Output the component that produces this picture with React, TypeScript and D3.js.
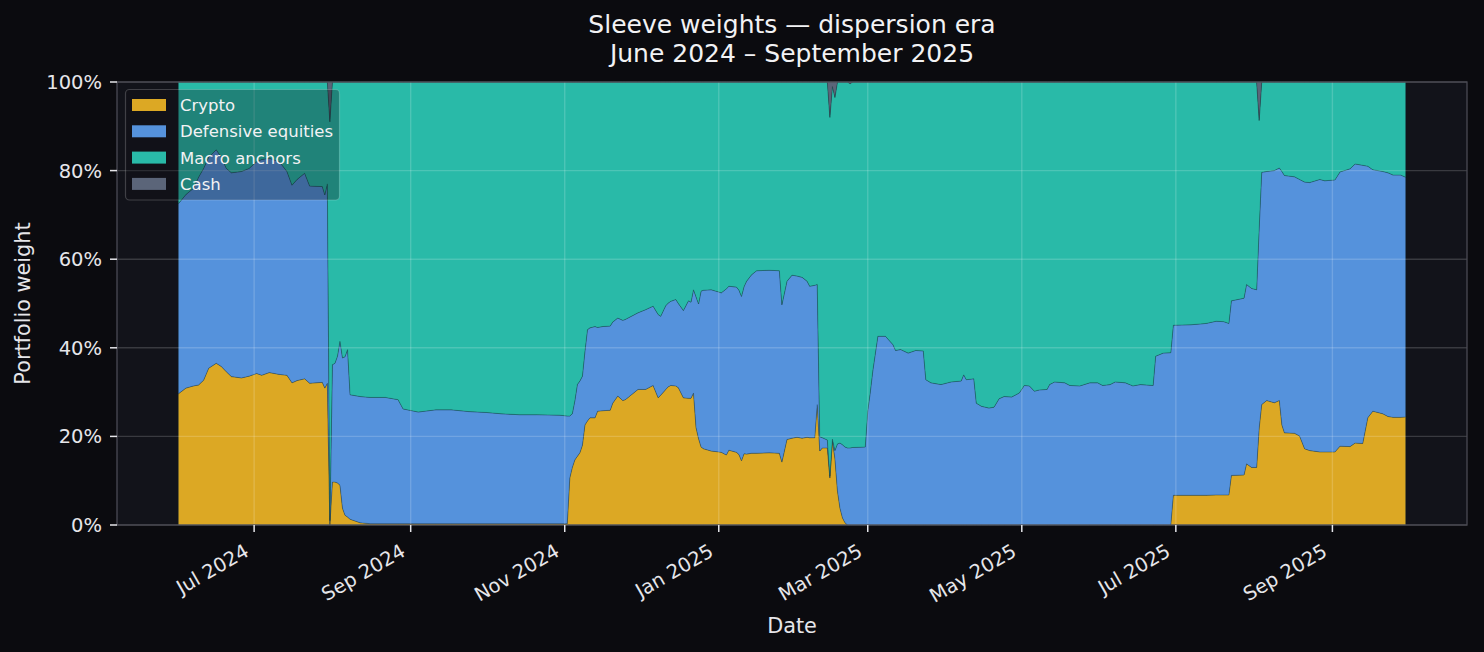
import React from 'react';
import * as d3 from 'd3';

// Sleeve weights, in percent of the portfolio
const dates = [
  '2024-06-01', '2024-06-04', '2024-06-07', '2024-06-09', '2024-06-11', '2024-06-13', '2024-06-16', '2024-06-18',
  '2024-06-20', '2024-06-22', '2024-06-26', '2024-06-29', '2024-07-02', '2024-07-04', '2024-07-07', '2024-07-11',
  '2024-07-14', '2024-07-16', '2024-07-18', '2024-07-21', '2024-07-23', '2024-07-28', '2024-07-29', '2024-07-30',
  '2024-07-31', '2024-08-01', '2024-08-02', '2024-08-03', '2024-08-04', '2024-08-05', '2024-08-06', '2024-08-07',
  '2024-08-08', '2024-08-12', '2024-08-16', '2024-08-22', '2024-08-27', '2024-08-29', '2024-09-04', '2024-09-11',
  '2024-09-17', '2024-09-24', '2024-10-01', '2024-10-07', '2024-10-14', '2024-10-21', '2024-10-30', '2024-11-02',
  '2024-11-03', '2024-11-04', '2024-11-05', '2024-11-06', '2024-11-07', '2024-11-08', '2024-11-09', '2024-11-10',
  '2024-11-11', '2024-11-13', '2024-11-14', '2024-11-16', '2024-11-19', '2024-11-20', '2024-11-22', '2024-11-24',
  '2024-11-25', '2024-11-30', '2024-12-03', '2024-12-06', '2024-12-08', '2024-12-09', '2024-12-11', '2024-12-12',
  '2024-12-13', '2024-12-15', '2024-12-16', '2024-12-18', '2024-12-20', '2024-12-21', '2024-12-22', '2024-12-23',
  '2024-12-24', '2024-12-25', '2024-12-26', '2024-12-29', '2025-01-01', '2025-01-02', '2025-01-04', '2025-01-05',
  '2025-01-08', '2025-01-09', '2025-01-10', '2025-01-11', '2025-01-12', '2025-01-14', '2025-01-16', '2025-01-21',
  '2025-01-25', '2025-01-26', '2025-01-28', '2025-01-30', '2025-02-01', '2025-02-03', '2025-02-05', '2025-02-06',
  '2025-02-08', '2025-02-09', '2025-02-10', '2025-02-11', '2025-02-13', '2025-02-14', '2025-02-15', '2025-02-16',
  '2025-02-17', '2025-02-18', '2025-02-19', '2025-02-20', '2025-02-21', '2025-02-22', '2025-02-23', '2025-02-28',
  '2025-03-01', '2025-03-02', '2025-03-03', '2025-03-05', '2025-03-08', '2025-03-11', '2025-03-12', '2025-03-14',
  '2025-03-17', '2025-03-20', '2025-03-23', '2025-03-24', '2025-03-26', '2025-03-30', '2025-04-03', '2025-04-07',
  '2025-04-08', '2025-04-09', '2025-04-12', '2025-04-13', '2025-04-15', '2025-04-18', '2025-04-20', '2025-04-22',
  '2025-04-24', '2025-04-27', '2025-04-30', '2025-05-02', '2025-05-04', '2025-05-06', '2025-05-08', '2025-05-11',
  '2025-05-12', '2025-05-14', '2025-05-18', '2025-05-20', '2025-05-24', '2025-05-28', '2025-05-31', '2025-06-02',
  '2025-06-05', '2025-06-07', '2025-06-11', '2025-06-14', '2025-06-17', '2025-06-22', '2025-06-23', '2025-06-26',
  '2025-06-29', '2025-06-30', '2025-07-07', '2025-07-13', '2025-07-17', '2025-07-20', '2025-07-22', '2025-07-23',
  '2025-07-28', '2025-07-29', '2025-07-31', '2025-08-02', '2025-08-03', '2025-08-04', '2025-08-06', '2025-08-09',
  '2025-08-11', '2025-08-12', '2025-08-13', '2025-08-17', '2025-08-19', '2025-08-21', '2025-08-23', '2025-08-27',
  '2025-08-29', '2025-09-02', '2025-09-04', '2025-09-08', '2025-09-10', '2025-09-13', '2025-09-15', '2025-09-17',
  '2025-09-21', '2025-09-23', '2025-09-25', '2025-09-28', '2025-09-30',
];

const crypto = [
  29.6, 30.9, 31.4, 31.6, 32.7, 35.4, 36.5, 35.8, 34.6, 33.5, 33.2, 33.6, 34.2, 33.8, 34.4, 34.0,
  33.8, 32.1, 32.6, 33.0, 32.0, 32.2, 30.9, 32.0, 0, 9.7, 9.7, 9.5, 9.0, 3.8, 2.2, 1.8,
  1.3, 0.5, 0.3, 0.3, 0.3, 0.3, 0.3, 0.3, 0.3, 0.3, 0.3, 0.3, 0.3, 0.3, 0.3, 0.3,
  10.6, 13.0, 14.7, 15.5, 16.3, 18.0, 22.6, 23.5, 24.2, 24.2, 25.7, 25.8, 25.9, 27.5, 29.1, 28.1,
  28.3, 30.6, 30.6, 31.5, 28.7, 29.3, 30.6, 31.2, 31.5, 31.4, 31.0, 28.7, 28.6, 28.6, 29.8, 22.0,
  19.5, 17.6, 17.2, 16.7, 16.5, 16.4, 15.8, 16.9, 16.4, 15.9, 14.5, 16.1, 16.0, 16.2, 16.2, 16.3,
  16.2, 14.2, 19.3, 19.6, 19.8, 19.6, 19.8, 19.7, 19.7, 27.2, 16.7, 17.4, 17.4, 10.6, 19.0, 15.0,
  7.7, 3.8, 1.6, 0.5, 0, 0, 0, 0, 0, 0, 0, 0, 0, 0, 0, 0,
  0, 0, 0, 0, 0, 0, 0, 0, 0, 0, 0, 0, 0, 0, 0, 0,
  0, 0, 0, 0, 0, 0, 0, 0, 0, 0, 0, 0, 0, 0, 0, 0,
  0, 0, 0, 0, 0, 0, 0, 0, 0, 6.7, 6.7, 6.7, 6.8, 6.8, 6.8, 11.2,
  11.3, 13.8, 13.0, 13.0, 21.9, 27.2, 28.1, 27.6, 28.1, 22.6, 20.8, 20.7, 20.1, 17.2, 16.8, 16.5,
  16.5, 16.5, 17.8, 17.7, 18.5, 18.4, 24.2, 25.7, 25.1, 24.5, 24.3, 24.3, 24.4,
];

const defensive = [
  42.9, 43.7, 44.6, 46.9, 47.8, 47.6, 48.2, 47.2, 45.9, 46.0, 46.6, 46.9, 47.8, 48.7, 48.4, 48.0,
  46.0, 44.6, 45.4, 46.4, 44.5, 44.2, 43.6, 45.0, 1.0, 26.5, 26.8, 28.6, 32.5, 33.9, 35.8, 37.8,
  28.1, 28.5, 28.5, 28.5, 28.0, 25.9, 25.2, 25.7, 25.7, 25.3, 25.1, 24.8, 24.6, 24.6, 24.5, 24.3,
  14.0, 12.1, 13.3, 16.2, 16.2, 15.6, 16.6, 20.6, 20.3, 20.6, 18.9, 19.0, 19.0, 18.3, 17.6, 18.1,
  18.1, 17.3, 18.0, 17.9, 18.8, 17.8, 18.9, 18.9, 19.0, 19.5, 19.0, 19.7, 22.0, 21.7, 23.3, 29.5,
  30.4, 35.2, 35.8, 36.4, 36.1, 36.0, 37.5, 37.0, 37.3, 37.1, 37.1, 37.7, 39.0, 40.3, 41.2, 41.2,
  41.2, 35.5, 35.7, 36.8, 36.4, 36.3, 35.2, 34.2, 34.4, 27.1, 3.2, 2.3, 1.8, 0.4, 0.4, 1.8,
  10.6, 14.7, 16.5, 17.1, 17.4, 17.4, 17.5, 17.6, 25.7, 30.0, 34.8, 42.6, 42.6, 40.7, 39.4, 39.6,
  38.8, 39.4, 39.3, 32.8, 32.1, 31.7, 32.3, 32.5, 33.9, 32.8, 33.0, 27.5, 26.8, 26.4, 26.6, 28.5,
  29.0, 28.9, 29.8, 31.5, 31.4, 30.2, 30.5, 30.6, 31.7, 32.3, 32.1, 31.5, 31.4, 32.1, 32.1, 31.5,
  31.7, 32.3, 32.1, 31.4, 31.7, 31.5, 38.1, 38.8, 38.9, 38.4, 38.5, 38.8, 39.2, 39.1, 38.7, 39.4,
  39.9, 40.5, 40.4, 40.1, 45.1, 52.4, 51.7, 52.4, 52.5, 57.2, 58.1, 57.9, 57.9, 60.2, 60.5, 61.5,
  61.2, 61.4, 61.9, 62.7, 63.0, 62.8, 56.8, 54.5, 54.7, 55.0, 54.7, 54.7, 54.1,
];

const macro = [
  27.5, 25.4, 24.0, 21.5, 19.5, 17.0, 15.3, 17.0, 19.5, 20.5, 20.2, 19.5, 18.0, 17.5, 17.2, 18.0,
  20.2, 23.3, 22.0, 20.6, 23.5, 23.6, 25.5, 23.0, 90.0, 63.8, 63.5, 61.9, 58.5, 62.3, 62.0, 60.4,
  70.6, 71.0, 71.2, 71.2, 71.7, 73.8, 74.5, 74.0, 74.0, 74.4, 74.6, 74.9, 75.1, 75.1, 75.2, 75.4,
  75.4, 74.9, 72.0, 68.3, 67.5, 66.4, 60.8, 55.9, 55.5, 55.2, 55.4, 55.2, 55.1, 54.2, 53.3, 53.8,
  53.6, 52.1, 51.4, 50.6, 52.5, 52.9, 50.5, 49.9, 49.5, 49.1, 50.0, 51.6, 49.4, 49.7, 46.9, 48.5,
  50.1, 47.2, 47.0, 46.9, 47.4, 47.6, 46.7, 46.1, 46.3, 47.0, 48.4, 46.2, 45.0, 43.5, 42.6, 42.5,
  42.6, 50.3, 45.0, 43.6, 43.8, 44.1, 45.0, 46.1, 45.9, 45.7, 80.1, 80.3, 80.8, 81.0, 79.6, 79.7,
  81.7, 81.5, 81.9, 82.4, 82.6, 82.2, 82.5, 82.4, 74.3, 70.0, 65.2, 57.4, 57.4, 59.3, 60.6, 60.4,
  61.2, 60.6, 60.7, 67.2, 67.9, 68.3, 67.7, 67.5, 66.1, 67.2, 67.0, 72.5, 73.2, 73.6, 73.4, 71.5,
  71.0, 71.1, 70.2, 68.5, 68.6, 69.8, 69.5, 69.4, 68.3, 67.7, 67.9, 68.5, 68.6, 67.9, 67.9, 68.5,
  68.3, 67.7, 67.9, 68.6, 68.3, 68.5, 61.9, 61.2, 61.1, 54.9, 54.8, 54.5, 54.0, 54.1, 54.5, 49.4,
  48.8, 45.7, 46.6, 46.9, 24.3, 20.4, 20.2, 20.0, 19.4, 20.2, 21.1, 21.4, 22.0, 22.6, 22.7, 22.0,
  22.3, 22.1, 20.3, 19.6, 18.5, 18.8, 19.0, 19.8, 20.2, 20.5, 21.0, 21.0, 21.5,
];

const cash = [
  0, 0, 0, 0, 0, 0, 0, 0, 0, 0, 0, 0, 0, 0, 0, 0,
  0, 0, 0, 0, 0, 0, 0, 0, 9.0, 0, 0, 0, 0, 0, 0, 0,
  0, 0, 0, 0, 0, 0, 0, 0, 0, 0, 0, 0, 0, 0, 0, 0,
  0, 0, 0, 0, 0, 0, 0, 0, 0, 0, 0, 0, 0, 0, 0, 0,
  0, 0, 0, 0, 0, 0, 0, 0, 0, 0, 0, 0, 0, 0, 0, 0,
  0, 0, 0, 0, 0, 0, 0, 0, 0, 0, 0, 0, 0, 0, 0, 0,
  0, 0, 0, 0, 0, 0, 0, 0, 0, 0, 0, 0, 0, 8.0, 1.0, 3.5,
  0, 0, 0, 0, 0, 0.4, 0, 0, 0, 0, 0, 0, 0, 0, 0, 0,
  0, 0, 0, 0, 0, 0, 0, 0, 0, 0, 0, 0, 0, 0, 0, 0,
  0, 0, 0, 0, 0, 0, 0, 0, 0, 0, 0, 0, 0, 0, 0, 0,
  0, 0, 0, 0, 0, 0, 0, 0, 0, 0, 0, 0, 0, 0, 0, 0,
  0, 0, 0, 0, 8.7, 0, 0, 0, 0, 0, 0, 0, 0, 0, 0, 0,
  0, 0, 0, 0, 0, 0, 0, 0, 0, 0, 0, 0, 0,
];

const seriesNames = ['Crypto', 'Defensive equities', 'Macro anchors', 'Cash'];
const seriesKeys = ['crypto', 'defensive', 'macro', 'cash'];
const seriesColors = ['#dca824', '#5592dc', '#29baa8', '#5b6579'];

const xTickDates = ['2024-07-01', '2024-09-01', '2024-11-01', '2025-01-01', '2025-03-01', '2025-05-01', '2025-07-01', '2025-09-01'];
const yTicks = [0, 20, 40, 60, 80, 100];

const W = 1484;
const H = 652;
const margin = { left: 117, right: 17, top: 82, bottom: 127 };
const FONT = 'DejaVu Sans, sans-serif';

const App = () => {
  const parse = d3.timeParse('%Y-%m-%d');
  const rows = dates.map((d, i) => ({
    date: parse(d) as Date,
    crypto: crypto[i],
    defensive: defensive[i],
    macro: macro[i],
    cash: cash[i],
  }));

  // matplotlib-like 5% margins on the x axis
  const t0 = rows[0].date.getTime();
  const t1 = rows[rows.length - 1].date.getTime();
  const pad = (t1 - t0) * 0.05;

  const x = d3
    .scaleTime()
    .domain([new Date(t0 - pad), new Date(t1 + pad)])
    .range([margin.left, W - margin.right]);
  const y = d3.scaleLinear().domain([0, 100]).range([H - margin.bottom, margin.top]);

  const stacked = d3.stack<any>().keys(seriesKeys)(rows);
  const area = d3
    .area<any>()
    .x((d) => x(d.data.date))
    .y0((d) => y(d[0]))
    .y1((d) => y(d[1]));

  const x0 = margin.left;
  const x1 = W - margin.right;
  const y0 = H - margin.bottom;
  const y1 = margin.top;
  const fmt = d3.timeFormat('%b %Y');
  const grid = 'rgba(255,255,255,0.17)';
  const tickColor = '#e6e6ea';

  return (
    <div style={{ position: 'absolute', left: 0, top: 0, width: W, height: H, background: '#0b0b0f' }}>
      <svg width={W} height={H} style={{ display: 'block' }} fontFamily={FONT}>
        <rect x={0} y={0} width={W} height={H} fill="#0b0b0f" />
        <rect x={x0} y={y1} width={x1 - x0} height={y0 - y1} fill="#12131a" />

        {/* stacked areas */}
        {stacked.map((s, i) => (
          <path
            key={seriesKeys[i]}
            d={area(s) as string}
            fill={seriesColors[i]}
            stroke="rgba(20,50,60,0.35)"
            strokeWidth={0.8}
            strokeLinejoin="round"
          />
        ))}

        {/* grid on top of the areas */}
        {yTicks.map((t) => (
          <line key={'gy' + t} x1={x0} x2={x1} y1={y(t)} y2={y(t)} stroke={grid} strokeWidth={1.4} />
        ))}
        {xTickDates.map((d) => {
          const px = x(parse(d) as Date);
          return <line key={'gx' + d} x1={px} x2={px} y1={y1} y2={y0} stroke={grid} strokeWidth={1.4} />;
        })}

        {/* spines */}
        <rect x={x0} y={y1} width={x1 - x0} height={y0 - y1} fill="none" stroke="#4a4a54" strokeWidth={1.3} />

        {/* y axis */}
        {yTicks.map((t) => (
          <g key={'ty' + t}>
            <line x1={x0 - 7} x2={x0} y1={y(t)} y2={y(t)} stroke={tickColor} strokeWidth={1.5} />
            <text x={x0 - 15} y={y(t)} dy="0.36em" textAnchor="end" fontSize={19.5} fill={tickColor}>
              {t}%
            </text>
          </g>
        ))}

        {/* x axis */}
        {xTickDates.map((d) => {
          const dt = parse(d) as Date;
          const px = x(dt);
          return (
            <g key={'tx' + d}>
              <line x1={px} x2={px} y1={y0} y2={y0 + 7} stroke={tickColor} strokeWidth={1.5} />
              <text
                transform={`translate(${px - 11},${y0 + 18}) rotate(-30)`}
                dy="0.72em"
                textAnchor="end"
                fontSize={19.5}
                fill={tickColor}
              >
                {fmt(dt)}
              </text>
            </g>
          );
        })}

        {/* axis labels */}
        <text x={(x0 + x1) / 2} y={633} textAnchor="middle" fontSize={20.8} fill={tickColor}>
          Date
        </text>
        <text
          transform={`translate(30,${(y0 + y1) / 2}) rotate(-90)`}
          textAnchor="middle"
          fontSize={20.8}
          fill={tickColor}
        >
          Portfolio weight
        </text>

        {/* title */}
        <text x={(x0 + x1) / 2} y={33} textAnchor="middle" fontSize={25} fill="#f2f2f4">
          Sleeve weights — dispersion era
        </text>
        <text x={(x0 + x1) / 2} y={62} textAnchor="middle" fontSize={25} fill="#f2f2f4">
          June 2024 – September 2025
        </text>

        {/* legend */}
        <g>
          <rect x={125.5} y={89.5} width={214} height={110.5} rx={4} fill="rgba(14,14,22,0.32)" stroke="rgba(255,255,255,0.2)" strokeWidth={1.2} />
          {seriesNames.map((name, i) => (
            <g key={name} transform={`translate(132,${105 + i * 26.3})`}>
              <rect x={0} y={-6} width={34} height={12} fill={seriesColors[i]} />
              <text x={48} y={0} dy="0.36em" fontSize={16.5} fill="#f2f2f4">
                {name}
              </text>
            </g>
          ))}
        </g>
      </svg>
    </div>
  );
};

export default App;
